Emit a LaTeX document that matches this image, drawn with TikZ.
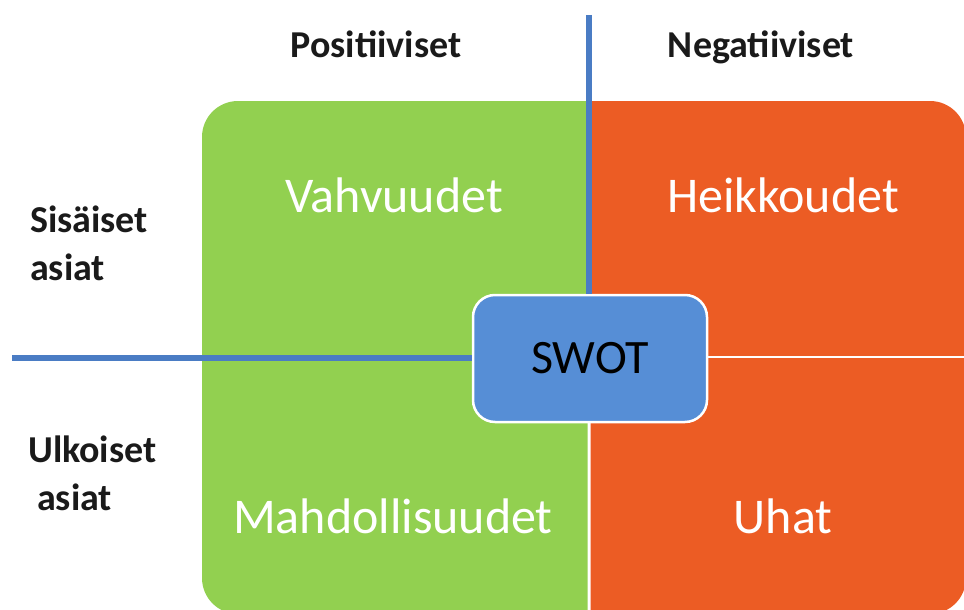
\documentclass[tikz,border=0pt]{standalone}
\usepackage{fontspec}
\setmainfont{Carlito}
\definecolor{swgreen}{HTML}{92D050}
\definecolor{sworange}{HTML}{EC5C24}
\definecolor{swbox}{HTML}{568ED6}
\definecolor{swline}{HTML}{4A7CC4}
\definecolor{swtext}{HTML}{1A1A1A}
\tikzset{
  axislabel/.style={anchor=base, text=swtext, font=\fontsize{38}{45}\selectfont\bfseries, inner sep=0pt},
  sidelabel/.style={anchor=base west, text=swtext, font=\fontsize{38}{45}\selectfont\bfseries, inner sep=0pt},
  quadlabel/.style={anchor=base, text=white, font=\fontsize{50}{60}\selectfont, inner sep=0pt},
  centerbox/.style={draw=white, line width=2.5pt, fill=swbox, rounded corners=22pt,
    minimum width=234pt, minimum height=127pt, inner sep=0pt,
    text=black, font=\fontsize{48}{58}\selectfont},
  axisline/.style={draw=swline, line width=5.5pt}
}
\begin{document}
\begin{tikzpicture}[x=1pt, y=-1pt]
\useasboundingbox (0,0) rectangle (964,610);

% quadrants: each one is a rounded rectangle clipped to its cell
\begin{scope}
  \clip (202,101) rectangle (587.5,355.5);
  \fill[swgreen, rounded corners=36pt] (202,101) rectangle (800,800);
\end{scope}
\begin{scope}
  \clip (202,358.5) rectangle (587.5,614);
  \fill[swgreen, rounded corners=36pt] (202,-100) rectangle (800,614);
\end{scope}
\begin{scope}
  \clip (590.5,101) rectangle (966,355.5);
  \fill[sworange, rounded corners=36pt] (300,101) rectangle (966,800);
\end{scope}
\begin{scope}
  \clip (590.5,358.5) rectangle (966,614);
  \fill[sworange, rounded corners=36pt] (300,-100) rectangle (966,614);
\end{scope}

% headings
\node[axislabel] (pos) at (376,58) {Positiiviset};
\node[axislabel] (neg) at (761,58) {Negatiiviset};
\node[sidelabel] (sis1) at (30,232) {Sisäiset};
\node[sidelabel] (sis2) at (30,280) {asiat};
\node[sidelabel] (ulk1) at (28,462) {Ulkoiset};
\node[sidelabel] (ulk2) at (37,510) {asiat};

% quadrant titles
\node[quadlabel] (vah) at (394,212) {Vahvuudet};
\node[quadlabel] (hei) at (783,212) {Heikkoudet};
\node[quadlabel] (mah) at (393,533) {Mahdollisuudet};
\node[quadlabel] (uha) at (783,533) {Uhat};

% centre box and axes
\node[centerbox] (swot) at (590,358.5) {SWOT};
\coordinate (topend) at (589,15);
\coordinate (leftend) at (12,358);
\draw[axisline] (topend) -- (topend |- swot.north);
\draw[axisline] (leftend) -- (leftend -| swot.west);
\end{tikzpicture}
\end{document}
